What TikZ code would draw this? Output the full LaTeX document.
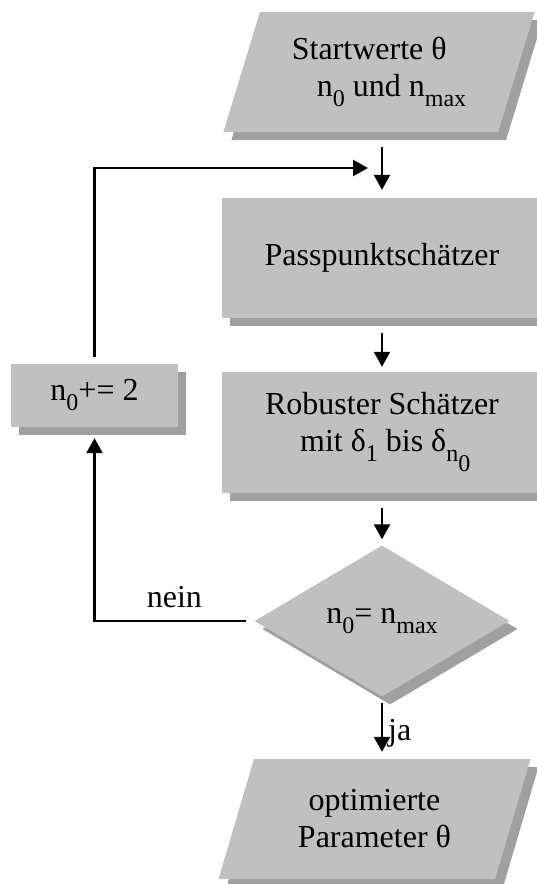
\documentclass[tikz,border=0pt]{standalone}
\usepackage{fontspec}
\setmainfont{Liberation Serif}
\usetikzlibrary{shapes.geometric,shadows,arrows.meta}

\definecolor{facegray}{RGB}{192,192,192}
\definecolor{shadowgray}{RGB}{160,160,160}
\newcommand\lowidx[1]{\raisebox{-10pt}{\fontsize{24}{24}\selectfont #1}}

\tikzset{
  boxshadow/.style={drop shadow={shadow xshift=8pt,shadow yshift=-8pt,fill=shadowgray,opacity=1}},
  procbox/.style={rectangle, fill=facegray, boxshadow, inner sep=0pt},
  iobox/.style={trapezium, trapezium left angle=69, trapezium right angle=111,
    trapezium stretches=true, fill=facegray, boxshadow, inner sep=0pt,
    minimum width=312pt, minimum height=120pt},
  testbox/.style={diamond, aspect=1.69, fill=facegray, boxshadow, inner sep=0pt,
    minimum width=255pt, minimum height=151pt},
  flow/.style={-{Triangle[length=15pt,width=16pt]}, line width=2.4pt},
}

\begin{document}
\begin{tikzpicture}[x=1pt, y=-1pt, font=\fontsize{32}{37}\selectfont]
    \useasboundingbox (0,0) rectangle (536,884) ;
    % boxes
    \node [iobox, align=left] (start) at (379,72) {Startwerte θ\\\hspace*{25pt}n\lowidx{0} und n\lowidx{max}} ;
    \node [procbox, minimum width=320pt, minimum height=120pt] (pass) at (382,258) {Passpunktschätzer} ;
    \node [procbox, minimum width=320pt, minimum height=121pt, align=left] (rob) at (382,432.5)
        {Robuster Schätzer\\\hspace*{35pt}mit δ\lowidx{1} bis δ\lowidx{n\raisebox{-10pt}{0}}} ;
    \node [procbox, minimum width=167pt, minimum height=63pt] (inc) at (94.5,395.5) {n\lowidx{0}+= 2} ;
    \node [testbox] (cmp) at (382,621) {n\lowidx{0}= n\lowidx{max}} ;
    \node [iobox, align=center] (end) at (374.5,819) {optimierte\\Parameter θ} ;
    \coordinate (fb) at (368,168) ;
    % arrows
    \draw [flow, shorten <=15pt, shorten >=8pt] (start.south -| pass.north) -- (pass.north) ;
    \draw [flow, shorten <=15pt, shorten >=5pt] (pass) -- (rob) ;
    \draw [flow, shorten <=15pt, shorten >=6pt] (rob) -- (cmp) ;
    \draw [flow, shorten <=6pt, shorten >=7pt] (cmp.south) -- (end.north -| cmp.south)
        node [pos=0.5, right=5pt, yshift=-6pt, inner sep=0pt] (ja) {ja} ;
    \draw [flow, shorten <=8pt, shorten >=11pt] (cmp.west) -| (inc.south)
        node [pos=0.25, above=12pt, inner sep=0pt] (nein) {nein} ;
    \draw [flow, shorten <=7pt] (inc.north) |- (fb) ;
\end{tikzpicture}
\end{document}
